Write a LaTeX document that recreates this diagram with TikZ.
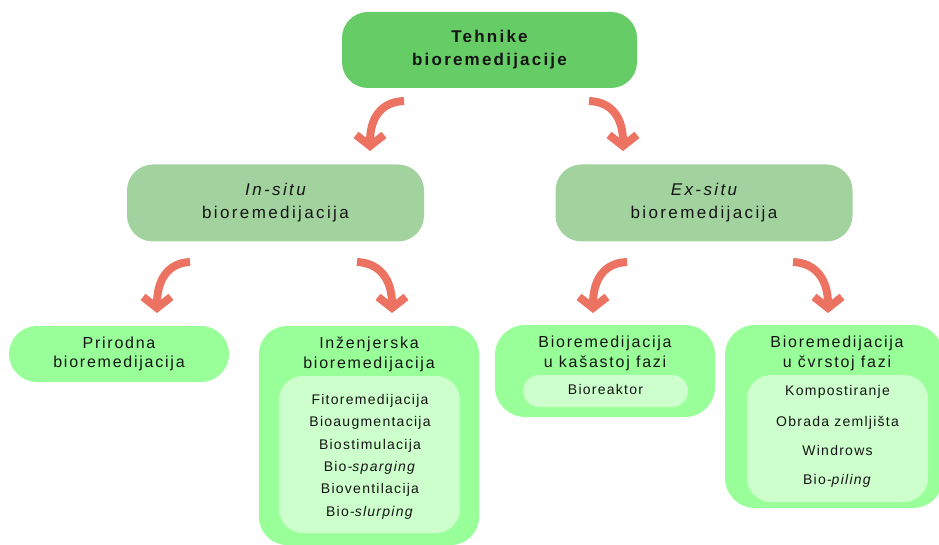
\documentclass[tikz,border=0pt]{standalone}
\usepackage{fontspec}
\setmainfont{Liberation Sans}
\newfontfamily\titlefont{Liberation Sans}[LetterSpace=13]
\newfontfamily\lvlfont{Liberation Sans}[LetterSpace=14]
\newfontfamily\headfont{Liberation Sans}[LetterSpace=11]
\newfontfamily\itemfont{Liberation Sans}[LetterSpace=9]
\usetikzlibrary{arrows.meta}
\definecolor{topgreen}{RGB}{102,204,102}
\definecolor{midgreen}{RGB}{162,211,158}
\definecolor{lightgreen}{RGB}{153,255,153}
\definecolor{palegreen}{RGB}{204,255,204}
\definecolor{arrowred}{RGB}{236,114,98}
\definecolor{txt}{RGB}{20,20,20}
\tikzset{
  box/.style={draw=none, inner sep=0pt, align=center, text=txt},
  lvltwo/.style={box, fill=midgreen, minimum width=297, minimum height=77, rounded corners=26, font=\lvlfont\fontsize{17}{23}\selectfont},
  outerbox/.style={box, fill=lightgreen, minimum width=220, rounded corners=28},
  innerbox/.style={box, fill=palegreen, rounded corners=24},
  head/.style={box, font=\headfont\fontsize{16}{19.5}\selectfont},
  item/.style={box, font=\itemfont\fontsize{14}{16}\selectfont, text height=.7em, text depth=.2em},
  arr/.style={draw=arrowred, line width=8pt, -{Straight Barb[length=11pt,width=28pt]}}
}
\begin{document}
\begin{tikzpicture}[x=1pt,y=-1pt]
\useasboundingbox (0,0) rectangle (939,545);
% top
\node[box, fill=topgreen, minimum width=295, minimum height=76, rounded corners=26,
      font=\titlefont\bfseries\fontsize{17}{23}\selectfont] (top) at (489.5,50) {Tehnike\\bioremedijacije};
% level two
\node[lvltwo] (insitu) at (275.5,203) {\itshape In-situ\\\upshape bioremedijacija};
\node[lvltwo] (exsitu) at (704,203) {\itshape Ex-situ\\\upshape bioremedijacija};
% bottom boxes
\node[outerbox, minimum height=56] (prir) at (119,354) {};
\node[head] (prirt) at (119,354) {Prirodna\\bioremedijacija};

\node[outerbox, minimum height=219] (inz) at (369,435.5) {};
\node[head] (inzt) at (369,354.5) {Inženjerska\\bioremedijacija};
\node[innerbox, minimum width=181, minimum height=157] (inzin) at (369.5,454.5) {};
\node[item] (i1) at (370,402) {Fitoremedijacija};
\node[item] (i2) at (370,424.3) {Bioaugmentacija};
\node[item] (i3) at (370,446.6) {Biostimulacija};
\node[item] (i4) at (370,468.9) {Bio-\textit{sparging}};
\node[item] (i5) at (370,491.2) {Bioventilacija};
\node[item] (i6) at (370,513.5) {Bio-\textit{slurping}};

\node[outerbox, minimum height=92, rounded corners=30] (kas) at (605,371) {};
\node[head] (kast) at (605,353.5) {Bioremedijacija\\u kašastoj fazi};
\node[innerbox, minimum width=165, minimum height=32, rounded corners=16] (kasin) at (605.5,391) {};
\node[item] (k1) at (605.5,392) {Bioreaktor};

\node[outerbox, minimum width=218, minimum height=183, rounded corners=30] (cvr) at (834,416.5) {};
\node[head] (cvrt) at (837,353.5) {Bioremedijacija\\u čvrstoj fazi};
\node[innerbox, minimum width=181, minimum height=127] (cvrin) at (837.5,438.5) {};
\node[item] (c1) at (837.5,393) {Kompostiranje};
\node[item] (c2) at (837.5,423.5) {Obrada zemljišta};
\node[item] (c3) at (837.5,452.5) {Windrows};
\node[item] (c4) at (837.5,481.5) {Bio-\textit{piling}};
% arrow end points
\coordinate (a1s) at (404,101); \coordinate (a1e) at (370,151);
\coordinate (a2s) at (589,101); \coordinate (a2e) at (623,151);
\coordinate (a3s) at (190,262); \coordinate (a3e) at (157,313);
\coordinate (a4s) at (357,262); \coordinate (a4e) at (392,313);
\coordinate (a5s) at (627,262); \coordinate (a5e) at (593,313);
\coordinate (a6s) at (793,262); \coordinate (a6e) at (828,313);
\draw[arr] (a1s) .. controls +(-24,1) and +(0,-32) .. (a1e);
\draw[arr] (a2s) .. controls +(24,1) and +(0,-32) .. (a2e);
\draw[arr] (a3s) .. controls +(-23,1) and +(0,-32) .. (a3e);
\draw[arr] (a4s) .. controls +(24,1) and +(0,-32) .. (a4e);
\draw[arr] (a5s) .. controls +(-24,1) and +(0,-32) .. (a5e);
\draw[arr] (a6s) .. controls +(24,1) and +(0,-32) .. (a6e);
\end{tikzpicture}
\end{document}
